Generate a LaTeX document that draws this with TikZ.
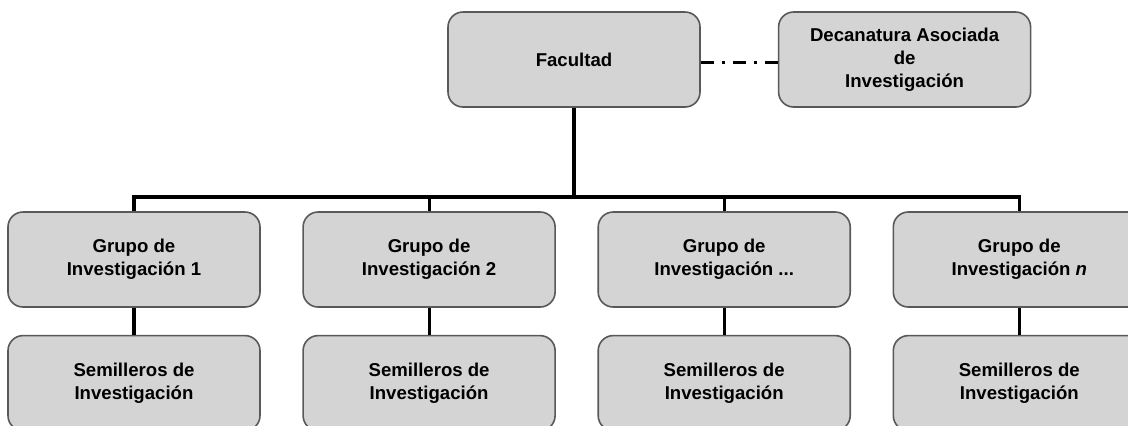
\documentclass[tikz,border=0pt]{standalone}
\usepackage{fontspec}
\setmainfont{Liberation Sans}
\usetikzlibrary{positioning}

\begin{document}
\begin{tikzpicture}[x=0.5pt, y=-0.5pt, node distance=20.75pt,
    caja/.style={rectangle, draw=black!65, fill=black!17, line width=0.8pt, rounded corners=7.5pt, minimum width=126pt, minimum height=47.5pt, align=center, inner sep=2pt, font=\fontsize{9.3}{11.5}\selectfont\bfseries},
    linea/.style={line width=1.6pt, black},
    punteada/.style={line width=1.6pt, black, dash pattern=on 6.5pt off 4pt on 1.5pt off 4pt}]

    \clip (0,0) rectangle (1128,425);

    \node [caja] (fac) at (574,59.5) {Facultad};
    \node [caja, right=38.5pt of fac] (dec) {Decanatura Asociada\\de\\Investigación};

    \node [caja] (g1) at (134,259.5) {Grupo de\\Investigación 1};
    \node [caja, right=of g1] (g2) {Grupo de\\Investigación 2};
    \node [caja, right=of g2] (g3) {Grupo de\\Investigación ...};
    \node [caja, right=of g3] (gn) {Grupo de\\Investigación \textit{n}};

    \node [caja, below=13.5pt of g1] (s1) {Semilleros de\\Investigación};
    \node [caja, below=13.5pt of g2] (s2) {Semilleros de\\Investigación};
    \node [caja, below=13.5pt of g3] (s3) {Semilleros de\\Investigación};
    \node [caja, below=13.5pt of gn] (sn) {Semilleros de\\Investigación};

    \coordinate (bus) at (574,197);

    \draw [punteada] ([yshift=-1.5pt]fac.east) -- ([yshift=-1.5pt]dec.west);
    \draw [linea] (fac.south) -- (bus);
    \draw [linea] (g1.north) |- (bus) -| (gn.north);
    \draw [linea] (g2.north) -- (g2.north |- bus);
    \draw [linea] (g3.north) -- (g3.north |- bus);

    \draw [linea] (g1) -- (s1);
    \draw [linea] (g2) -- (s2);
    \draw [linea] (g3) -- (s3);
    \draw [linea] (gn) -- (sn);
\end{tikzpicture}
\end{document}
